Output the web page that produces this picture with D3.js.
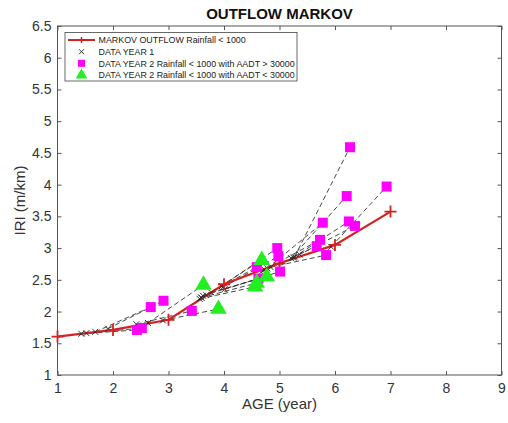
<!DOCTYPE html>
<html><head><meta charset="utf-8">
<script src="https://cdn.jsdelivr.net/npm/d3@7"></script>
<style>body{margin:0;background:#fff}svg{display:block}text{font-family:"Liberation Sans",Arial,sans-serif}</style>
</head><body><svg id="c" width="508" height="423"></svg>
<script>
const xTicks=[1,2,3,4,5,6,7,8,9];
const yTicks=[1,1.5,2,2.5,3,3.5,4,4.5,5,5.5,6,6.5];
const markovAge=[1,2,3,4,5,6,7];
const markovIRI=[1.605,1.71,1.87,2.43,2.76,3.05,3.575];
// Year 2 squares (AADT > 30000) and their year 1 counterparts
const sqAge=[2.43,2.52,2.68,2.91,3.42,4.59,4.62,4.96,4.98,5.01,5.67,5.73,5.78,5.84,6.21,6.27,6.25,6.36,6.93];
const sqIRI=[1.71,1.74,2.07,2.17,2.01,2.70,2.52,3.00,2.87,2.63,3.03,3.13,3.40,2.89,3.82,4.59,3.42,3.35,3.97];
const sqY1IRI=[1.65,1.66,1.68,1.73,1.80,2.22,2.25,2.40,2.38,2.35,2.62,2.66,2.68,2.70,2.84,2.86,2.85,2.90,3.02];
// Year 2 triangles (AADT < 30000) and their year 1 counterparts
const trAge=[3.63,3.90,4.56,4.59,4.68,4.77];
const trIRI=[2.42,2.04,2.39,2.45,2.81,2.55];
const trY1IRI=[1.82,1.86,2.20,2.22,2.26,2.30];
const legendLabels=["MARKOV OUTFLOW Rainfall < 1000","DATA YEAR 1","DATA YEAR 2 Rainfall < 1000 with AADT > 30000","DATA YEAR 2 Rainfall < 1000 with AADT < 30000"];

const svg=d3.select("#c");
const L=57.5,R=501.5,T=26,B=375;
const x=d3.scaleLinear().domain([1,9]).range([L,R]);
const y=d3.scaleLinear().domain([1,6.5]).range([B,T]);
const axisCol="#555", txtCol="#333";

svg.append("rect").attr("x",L).attr("y",T).attr("width",R-L).attr("height",B-T).attr("fill","#fff").attr("stroke",axisCol).attr("stroke-width",1);
const tl=4;
const gx=svg.append("g").attr("transform",`translate(0,${B})`).call(d3.axisBottom(x).tickValues(xTicks).tickSize(-tl).tickPadding(8).tickFormat(d3.format("d")));
const gxt=svg.append("g").attr("transform",`translate(0,${T})`).call(d3.axisTop(x).tickValues(xTicks).tickSize(-tl).tickFormat(""));
const gy=svg.append("g").attr("transform",`translate(${L},0)`).call(d3.axisLeft(y).tickValues(yTicks).tickSize(-tl).tickPadding(6).tickFormat(d=>String(d)));
const gyr=svg.append("g").attr("transform",`translate(${R},0)`).call(d3.axisRight(y).tickValues(yTicks).tickSize(-tl).tickFormat(""));
[gx,gxt,gy,gyr].forEach(g=>{g.select(".domain").remove();g.selectAll("line").attr("stroke",axisCol);g.selectAll("text").attr("fill",txtCol).style("font-size","14px").style("font-family","'Liberation Sans',Arial,sans-serif");});

const plot=svg.append("g");

const pairs=[];
sqAge.forEach((a,i)=>pairs.push([a-1,sqY1IRI[i],a,sqIRI[i]]));
trAge.forEach((a,i)=>pairs.push([a-1,trY1IRI[i],a,trIRI[i]]));
plot.selectAll("line.d").data(pairs).join("line").attr("x1",d=>x(d[0])).attr("y1",d=>y(d[1])).attr("x2",d=>x(d[2])).attr("y2",d=>y(d[3]))
  .attr("stroke","#333").attr("stroke-width",0.9).attr("stroke-dasharray","5,3");

const line=d3.line().x(d=>x(d[0])).y(d=>y(d[1]));
const mk=markovAge.map((a,i)=>[a,markovIRI[i]]);
const red="#d42222";
plot.append("path").datum(mk).attr("d",line).attr("fill","none").attr("stroke",red).attr("stroke-width",2.2);

const y1=pairs.map(p=>[p[0],p[1]]);
const xs=3;
plot.selectAll("path.x1").data(y1).join("path").attr("d",d=>{const cx=x(d[0]),cy=y(d[1]);return `M${cx-xs},${cy-xs}L${cx+xs},${cy+xs}M${cx-xs},${cy+xs}L${cx+xs},${cy-xs}`;})
  .attr("stroke","#222").attr("stroke-width",0.9).attr("fill","none");

const ps=6;
plot.selectAll("path.mk").data(mk).join("path").attr("d",d=>{const cx=x(d[0]),cy=y(d[1]);return `M${cx-ps},${cy}L${cx+ps},${cy}M${cx},${cy-ps}L${cx},${cy+ps}`;})
  .attr("stroke",red).attr("stroke-width",1.8);

const sq=10;
plot.selectAll("rect.sq").data(sqAge.map((a,i)=>[a,sqIRI[i]])).join("rect").attr("x",d=>x(d[0])-sq/2).attr("y",d=>y(d[1])-sq/2).attr("width",sq).attr("height",sq).attr("fill","#ff00ff");

const tr=d3.symbol().type(d3.symbolTriangle).size(120);
plot.selectAll("path.tr").data(trAge.map((a,i)=>[a,trIRI[i]])).join("path").attr("d",tr).attr("transform",d=>`translate(${x(d[0])},${y(d[1])})`).attr("fill","#22ee22");

svg.append("text").attr("x",(L+R)/2).attr("y",18.5).attr("text-anchor","middle").attr("font-weight","bold").attr("font-size","15px").attr("fill","#111").text("OUTFLOW MARKOV");
svg.append("text").attr("x",(L+R)/2).attr("y",409).attr("text-anchor","middle").attr("font-size","15px").attr("fill",txtCol).text("AGE (year)");
svg.append("text").attr("transform",`translate(25,${(T+B)/2}) rotate(-90)`).attr("text-anchor","middle").attr("font-size","15px").attr("fill",txtCol).text("IRI (m/km)");

const lg=svg.append("g");
lg.append("rect").attr("x",65).attr("y",32.5).attr("width",232).attr("height",48.5).attr("fill","#fff").attr("stroke","#444").attr("stroke-width",0.8);
const ly=[40,51.7,63.3,75.2];
legendLabels.forEach((t,i)=>{lg.append("text").attr("x",98.5).attr("y",ly[i]+3.2).attr("font-size","8.9px").attr("fill","#222").text(t);});
lg.append("line").attr("x1",68).attr("x2",95).attr("y1",ly[0]).attr("y2",ly[0]).attr("stroke",red).attr("stroke-width",2);
lg.append("path").attr("d",`M${81.5},${ly[0]-3}L${81.5},${ly[0]+3}`).attr("stroke",red).attr("stroke-width",1.5);
lg.append("path").attr("d",`M${79},${ly[1]-2.5}L${84},${ly[1]+2.5}M${79},${ly[1]+2.5}L${84},${ly[1]-2.5}`).attr("stroke","#222").attr("stroke-width",0.9);
lg.append("rect").attr("x",81.5-3.5).attr("y",ly[2]-3.5).attr("width",7).attr("height",7).attr("fill","#ff00ff");
lg.append("path").attr("d",d3.symbol().type(d3.symbolTriangle).size(60)).attr("transform",`translate(81.5,${ly[3]})`).attr("fill","#22ee22");
</script></body></html>
